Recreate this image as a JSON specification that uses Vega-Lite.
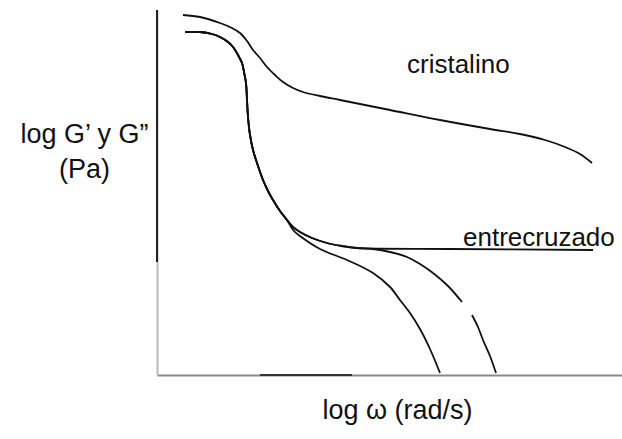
{
  "$schema": "https://vega.github.io/schema/vega-lite/v6.json",
  "width": 465,
  "height": 365,
  "autosize": "none",
  "padding": {"left": 157, "top": 10, "right": 0, "bottom": 64},
  "background": "white",
  "config": {"view": {"stroke": null}, "font": "Liberation Sans"},
  "layer": [
    {
      "data": {"values": [
        {"s": "cristalino", "x": 26, "y": 360}, {"s": "cristalino", "x": 43, "y": 358}, {"s": "cristalino", "x": 63, "y": 352}, {"s": "cristalino", "x": 75, "y": 347}, {"s": "cristalino", "x": 83, "y": 342}, {"s": "cristalino", "x": 90, "y": 334}, {"s": "cristalino", "x": 96, "y": 325}, {"s": "cristalino", "x": 103, "y": 317}, {"s": "cristalino", "x": 110, "y": 308}, {"s": "cristalino", "x": 118, "y": 300}, {"s": "cristalino", "x": 126, "y": 293}, {"s": "cristalino", "x": 136, "y": 287}, {"s": "cristalino", "x": 146, "y": 283}, {"s": "cristalino", "x": 163, "y": 279}, {"s": "cristalino", "x": 183, "y": 275}, {"s": "cristalino", "x": 233, "y": 265}, {"s": "cristalino", "x": 283, "y": 255}, {"s": "cristalino", "x": 333, "y": 246}, {"s": "cristalino", "x": 363, "y": 241}, {"s": "cristalino", "x": 388, "y": 235}, {"s": "cristalino", "x": 408, "y": 228}, {"s": "cristalino", "x": 423, "y": 221}, {"s": "cristalino", "x": 435, "y": 212},

        {"s": "entrecruzado", "x": 28, "y": 343}, {"s": "entrecruzado", "x": 43, "y": 343}, {"s": "entrecruzado", "x": 55, "y": 341}, {"s": "entrecruzado", "x": 63, "y": 338}, {"s": "entrecruzado", "x": 71, "y": 333}, {"s": "entrecruzado", "x": 76, "y": 328}, {"s": "entrecruzado", "x": 81, "y": 320}, {"s": "entrecruzado", "x": 85, "y": 312}, {"s": "entrecruzado", "x": 87, "y": 303}, {"s": "entrecruzado", "x": 89, "y": 292}, {"s": "entrecruzado", "x": 90, "y": 275}, {"s": "entrecruzado", "x": 91, "y": 258}, {"s": "entrecruzado", "x": 93, "y": 240}, {"s": "entrecruzado", "x": 96, "y": 225}, {"s": "entrecruzado", "x": 100, "y": 212}, {"s": "entrecruzado", "x": 106, "y": 195}, {"s": "entrecruzado", "x": 111, "y": 184}, {"s": "entrecruzado", "x": 116, "y": 175}, {"s": "entrecruzado", "x": 123, "y": 164}, {"s": "entrecruzado", "x": 130, "y": 155},
        {"s": "entrecruzado", "x": 136, "y": 148}, {"s": "entrecruzado", "x": 143, "y": 143}, {"s": "entrecruzado", "x": 155, "y": 137}, {"s": "entrecruzado", "x": 170, "y": 132}, {"s": "entrecruzado", "x": 185, "y": 129}, {"s": "entrecruzado", "x": 200, "y": 127}, {"s": "entrecruzado", "x": 293, "y": 126}, {"s": "entrecruzado", "x": 436, "y": 125},

        {"s": "medio", "x": 28, "y": 343}, {"s": "medio", "x": 43, "y": 343}, {"s": "medio", "x": 55, "y": 341}, {"s": "medio", "x": 63, "y": 338}, {"s": "medio", "x": 71, "y": 333}, {"s": "medio", "x": 76, "y": 328}, {"s": "medio", "x": 81, "y": 320}, {"s": "medio", "x": 85, "y": 312}, {"s": "medio", "x": 87, "y": 303}, {"s": "medio", "x": 89, "y": 292}, {"s": "medio", "x": 90, "y": 275}, {"s": "medio", "x": 91, "y": 258}, {"s": "medio", "x": 93, "y": 240}, {"s": "medio", "x": 96, "y": 225}, {"s": "medio", "x": 100, "y": 212}, {"s": "medio", "x": 106, "y": 195}, {"s": "medio", "x": 111, "y": 184}, {"s": "medio", "x": 116, "y": 175}, {"s": "medio", "x": 123, "y": 164}, {"s": "medio", "x": 130, "y": 155},
        {"s": "medio", "x": 136, "y": 148}, {"s": "medio", "x": 143, "y": 143}, {"s": "medio", "x": 155, "y": 137}, {"s": "medio", "x": 170, "y": 132}, {"s": "medio", "x": 185, "y": 129}, {"s": "medio", "x": 200, "y": 127}, {"s": "medio", "x": 216, "y": 126}, {"s": "medio", "x": 233, "y": 123}, {"s": "medio", "x": 250, "y": 118}, {"s": "medio", "x": 263, "y": 111}, {"s": "medio", "x": 276, "y": 102}, {"s": "medio", "x": 291, "y": 89}, {"s": "medio", "x": 305, "y": 73},
        {"s": "medio2", "x": 315, "y": 60}, {"s": "medio2", "x": 321, "y": 48}, {"s": "medio2", "x": 326, "y": 35}, {"s": "medio2", "x": 333, "y": 19}, {"s": "medio2", "x": 339, "y": 2},

        {"s": "bajo", "x": 28, "y": 343}, {"s": "bajo", "x": 43, "y": 343}, {"s": "bajo", "x": 55, "y": 341}, {"s": "bajo", "x": 63, "y": 338}, {"s": "bajo", "x": 71, "y": 333}, {"s": "bajo", "x": 76, "y": 328}, {"s": "bajo", "x": 81, "y": 320}, {"s": "bajo", "x": 85, "y": 312}, {"s": "bajo", "x": 87, "y": 303}, {"s": "bajo", "x": 89, "y": 292}, {"s": "bajo", "x": 90, "y": 275}, {"s": "bajo", "x": 91, "y": 258}, {"s": "bajo", "x": 93, "y": 240}, {"s": "bajo", "x": 96, "y": 225}, {"s": "bajo", "x": 100, "y": 212}, {"s": "bajo", "x": 106, "y": 195}, {"s": "bajo", "x": 111, "y": 184}, {"s": "bajo", "x": 116, "y": 175}, {"s": "bajo", "x": 123, "y": 164}, {"s": "bajo", "x": 130, "y": 155},
        {"s": "bajo", "x": 136, "y": 145}, {"s": "bajo", "x": 143, "y": 139}, {"s": "bajo", "x": 163, "y": 126}, {"s": "bajo", "x": 190, "y": 115}, {"s": "bajo", "x": 216, "y": 102}, {"s": "bajo", "x": 233, "y": 88}, {"s": "bajo", "x": 243, "y": 75}, {"s": "bajo", "x": 253, "y": 62}, {"s": "bajo", "x": 263, "y": 46}, {"s": "bajo", "x": 273, "y": 26}, {"s": "bajo", "x": 283, "y": 2}
      ]},
      "mark": {"type": "line", "color": "#111", "strokeWidth": 1.8, "interpolate": "catmull-rom"},
      "encoding": {
        "x": {"field": "x", "type": "quantitative", "scale": {"domain": [0, 465], "nice": false, "zero": false},
          "axis": {"title": "log ω (rad/s)", "ticks": false, "labels": false, "grid": false, "domainColor": "#8a8a8a", "domainWidth": 2,
            "titleFontSize": 27, "titleFontWeight": "normal", "titleColor": "#111", "titleX": 240, "titleY": 43, "titleAlign": "center", "titleBaseline": "alphabetic"}},
        "y": {"field": "y", "type": "quantitative", "scale": {"domain": [0, 365], "nice": false, "zero": false},
          "axis": {"title": ["log G’ y G”", "(Pa)"], "ticks": false, "labels": false, "grid": false, "domainColor": "#bbbbbb", "domainWidth": 2,
            "titleAngle": 0, "titleFontSize": 27, "titleFontWeight": "normal", "titleColor": "#111", "titleX": -73, "titleY": 132, "titleAlign": "center", "titleBaseline": "alphabetic", "titleLineHeight": 35}},
        "detail": {"field": "s", "type": "nominal"}
      }
    },
    {
      "data": {"values": [{"x": 0, "y": 113, "y2": 365}]},
      "mark": {"type": "rule", "color": "#222", "strokeWidth": 2},
      "encoding": {"x": {"field": "x", "type": "quantitative"}, "y": {"field": "y", "type": "quantitative"}, "y2": {"field": "y2"}}
    },
    {
      "data": {"values": [{"x": 103, "x2": 195, "y": 0}]},
      "mark": {"type": "rule", "color": "#333", "strokeWidth": 2},
      "encoding": {"x": {"field": "x", "type": "quantitative"}, "x2": {"field": "x2"}, "y": {"field": "y", "type": "quantitative"}}
    },
    {
      "data": {"values": [{"label": "cristalino", "x": 250, "y": 302}, {"label": "entrecruzado", "x": 306, "y": 129}]},
      "mark": {"type": "text", "align": "left", "baseline": "alphabetic", "fontSize": 26, "color": "#111", "font": "Liberation Sans"},
      "encoding": {"x": {"field": "x", "type": "quantitative"}, "y": {"field": "y", "type": "quantitative"}, "text": {"field": "label"}}
    }
  ]
}
